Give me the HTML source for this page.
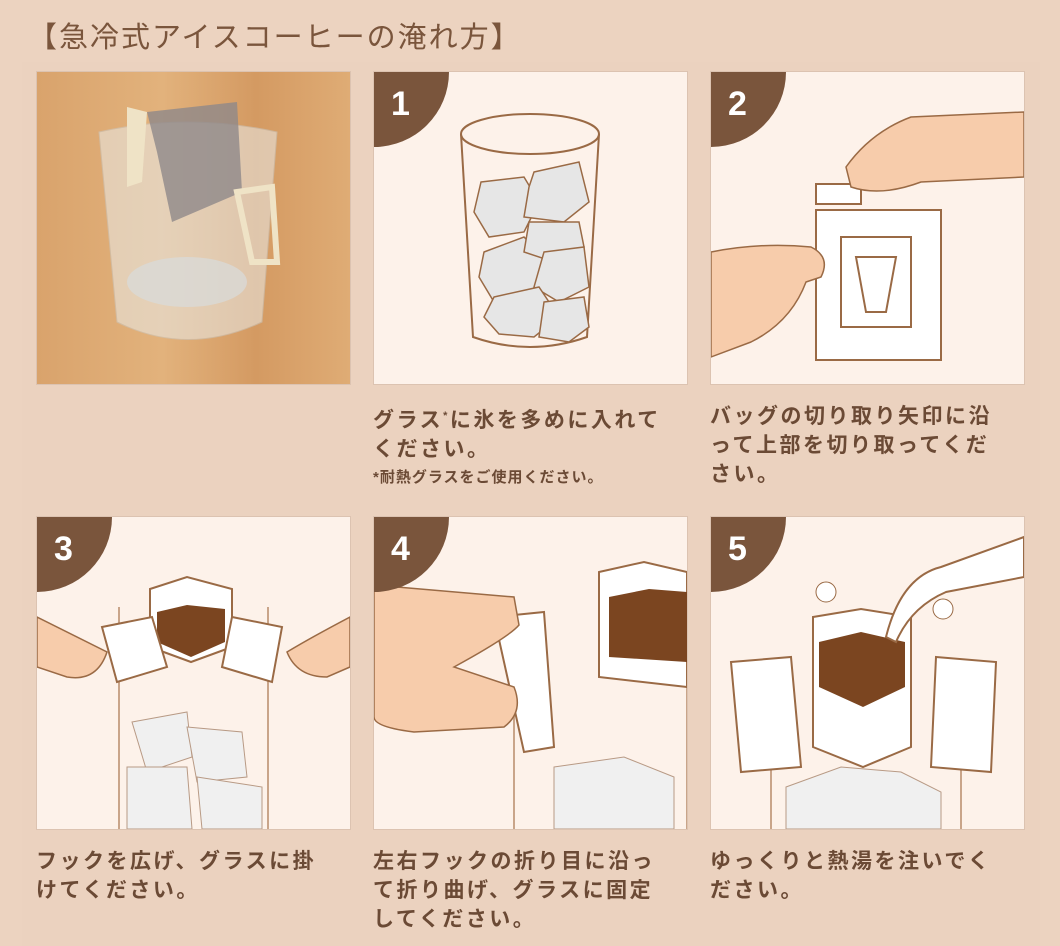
<!DOCTYPE html>
<html><head><meta charset="utf-8"><style>
body{margin:0;width:1060px;height:946px;background:#ecd3c0;font-family:"Liberation Sans","Noto Sans CJK JP",sans-serif;position:relative;overflow:hidden}
.inner{position:absolute;left:22px;top:62px;width:1018px;height:884px;background:#ebd2bf}
h1{position:absolute;left:28px;top:14px;margin:0;font-weight:normal;font-size:29px;color:#7a553c;letter-spacing:2px}
.p{position:absolute;width:313px;height:312px;background:#fdf2ea;border:1px solid #dcc3b1;overflow:hidden}
.b{position:absolute;left:0;top:0;width:75px;height:75px;background:#7a553c;border-bottom-right-radius:75px;color:#fff;font-size:34px;font-weight:bold}
.b span{position:absolute;left:17px;top:13px}
.t{position:absolute;font-size:21px;line-height:29px;color:#6b4a35;font-weight:bold;letter-spacing:2.5px;width:340px}
.s{font-size:15px;display:block;line-height:24px;margin-top:2px;letter-spacing:1px}
svg{position:absolute;left:0;top:0}
</style></head><body>
<div class="inner"></div>
<h1>【急冷式アイスコーヒーの淹れ方】</h1>

<div class="p" style="left:36px;top:71px;background:linear-gradient(90deg,#d9a36c,#e2b27c 40%,#d49a62 70%,#dfac75)">
<svg width="313" height="312">
<path d="M62 60 Q150 40 240 60 L225 250 Q150 285 80 250 Z" fill="#e9ebe9" opacity=".55" stroke="#c9c9c5"/>
<path d="M110 40 L200 30 L205 120 L135 150 L120 80 Z" fill="#8f8889" opacity=".8"/>
<path d="M90 35 L110 40 L105 110 L90 115 Z" fill="#efe3c6"/>
<path d="M200 120 L235 115 L240 190 L215 190 Z" fill="none" stroke="#efe3c6" stroke-width="6"/>
<ellipse cx="150" cy="210" rx="60" ry="25" fill="#d8dbdc" opacity=".7"/>
</svg></div>

<div class="p" style="left:373px;top:71px"><svg width="313" height="312">
<ellipse cx="156" cy="62" rx="69" ry="20" fill="none" stroke="#9a6a45" stroke-width="2"/>
<path d="M87 62 L99 265 Q156 285 213 265 L225 62" fill="none" stroke="#9a6a45" stroke-width="2"/>
<g fill="#e6e6e6" stroke="#9a6a45" stroke-width="1.5">
<polygon points="107,110 150,105 165,130 150,160 115,165 100,140"/>
<polygon points="160,100 205,90 215,130 190,150 150,145 155,115"/>
<polygon points="110,180 150,165 170,185 160,220 120,230 105,205"/>
<polygon points="155,150 205,150 210,175 180,190 150,180"/>
<polygon points="170,180 210,175 215,215 185,230 160,215"/>
<polygon points="120,225 165,215 185,245 160,265 125,262 110,245"/>
<polygon points="170,230 210,225 215,255 195,270 165,265"/>
</g></svg><div class="b"><span>1</span></div></div>

<div class="p" style="left:710px;top:71px"><svg width="313" height="312">
<rect x="105" y="138" width="125" height="150" fill="#fff" stroke="#9a6a45" stroke-width="2"/>
<rect x="105" y="112" width="45" height="20" fill="#fff" stroke="#9a6a45" stroke-width="2"/>
<rect x="130" y="165" width="70" height="90" fill="none" stroke="#9a6a45" stroke-width="2"/>
<path d="M145 185 L185 185 L175 240 L155 240 Z" fill="none" stroke="#9a6a45" stroke-width="2"/>
<path d="M135 95 Q160 60 200 45 L313 40 L313 105 L210 110 Q170 125 140 115 Z" fill="#f7ccab" stroke="#9a6a45" stroke-width="1.5"/>
<path d="M0 180 Q50 170 100 175 Q120 185 110 205 L95 210 Q80 250 40 270 L0 285 Z" fill="#f7ccab" stroke="#9a6a45" stroke-width="1.5"/>
</svg><div class="b"><span>2</span></div></div>

<div class="p" style="left:36px;top:516px"><svg width="313" height="312">
<path d="M82 90 L82 312 M231 90 L231 312" stroke="#c9a58a" stroke-width="2"/>
<g fill="#f0f0f0" stroke="#b89a85" stroke-width="1"><polygon points="95,205 150,195 155,240 110,255"/><polygon points="150,210 205,215 210,260 160,265"/><polygon points="90,250 150,250 155,312 90,312"/><polygon points="160,260 225,270 225,312 165,312"/></g>
<path d="M113 72 L150 60 L195 72 L195 130 L154 145 L113 130 Z" fill="#fff" stroke="#9a6a45" stroke-width="2"/>
<path d="M120 95 L150 88 L188 92 L188 125 L154 140 L120 125 Z" fill="#7b4520"/>
<path d="M65 110 L115 100 L130 150 L80 165 Z M195 100 L245 110 L235 165 L185 150 Z" fill="#fff" stroke="#9a6a45" stroke-width="2"/>
<path d="M0 100 Q40 120 70 135 Q60 165 30 160 L0 150 Z M313 100 Q275 120 250 135 Q260 160 290 160 L313 150 Z" fill="#f7ccab" stroke="#9a6a45" stroke-width="1.5"/>
</svg><div class="b"><span>3</span></div></div>

<div class="p" style="left:373px;top:516px"><svg width="313" height="312">
<path d="M140 100 L140 312 M313 100 L313 312" stroke="#c9a58a" stroke-width="2"/>
<polygon points="180,250 250,240 300,260 300,312 180,312" fill="#f0f0f0" stroke="#b89a85"/>
<path d="M225 55 L270 45 L313 55 L313 170 L225 160 Z" fill="#fff" stroke="#9a6a45" stroke-width="2"/>
<path d="M235 80 L275 72 L313 75 L313 145 L235 140 Z" fill="#7b4520"/>
<path d="M120 100 L170 95 L180 230 L150 235 Z" fill="#fff" stroke="#9a6a45" stroke-width="2"/>
<path d="M0 68 L140 80 L145 108 Q135 120 80 150 L140 170 Q150 195 130 210 L40 215 Q0 210 0 200 Z" fill="#f7ccab" stroke="#9a6a45" stroke-width="1.5"/>
</svg><div class="b"><span>4</span></div></div>

<div class="p" style="left:710px;top:516px"><svg width="313" height="312">
<path d="M60 150 L60 312 M250 150 L250 312" stroke="#c9a58a" stroke-width="2"/>
<polygon points="75,270 130,250 190,255 230,275 230,312 75,312" fill="#f0f0f0" stroke="#b89a85"/>
<path d="M102 100 L150 92 L200 100 L200 230 L152 250 L102 230 Z" fill="#fff" stroke="#9a6a45" stroke-width="2"/>
<path d="M108 125 L150 115 L194 125 L194 170 L152 190 L108 170 Z" fill="#7b4520"/>
<path d="M20 145 L80 140 L90 250 L30 255 Z M225 140 L285 145 L280 255 L220 250 Z" fill="#fff" stroke="#9a6a45" stroke-width="2"/>
<path d="M175 120 Q190 60 230 50 L313 20 L313 60 L235 75 Q200 90 185 125 Z" fill="#fff" stroke="#9a6a45" stroke-width="2"/>
<circle cx="115" cy="75" r="10" fill="#fff" stroke="#9a6a45"/><circle cx="232" cy="92" r="10" fill="#fff" stroke="#9a6a45"/>
</svg><div class="b"><span>5</span></div></div>

<div class="t" style="left:373px;top:402px">グラス<sup style="font-size:11px">*</sup>に氷を多めに入れて<br>ください。<span class="s">*耐熱グラスをご使用ください。</span></div>
<div class="t" style="left:710px;top:402px">バッグの切り取り矢印に沿<br>って上部を切り取ってくだ<br>さい。</div>
<div class="t" style="left:36px;top:847px">フックを広げ、グラスに掛<br>けてください。</div>
<div class="t" style="left:373px;top:847px">左右フックの折り目に沿っ<br>て折り曲げ、グラスに固定<br>してください。</div>
<div class="t" style="left:710px;top:847px">ゆっくりと熱湯を注いでく<br>ださい。</div>
</body></html>
